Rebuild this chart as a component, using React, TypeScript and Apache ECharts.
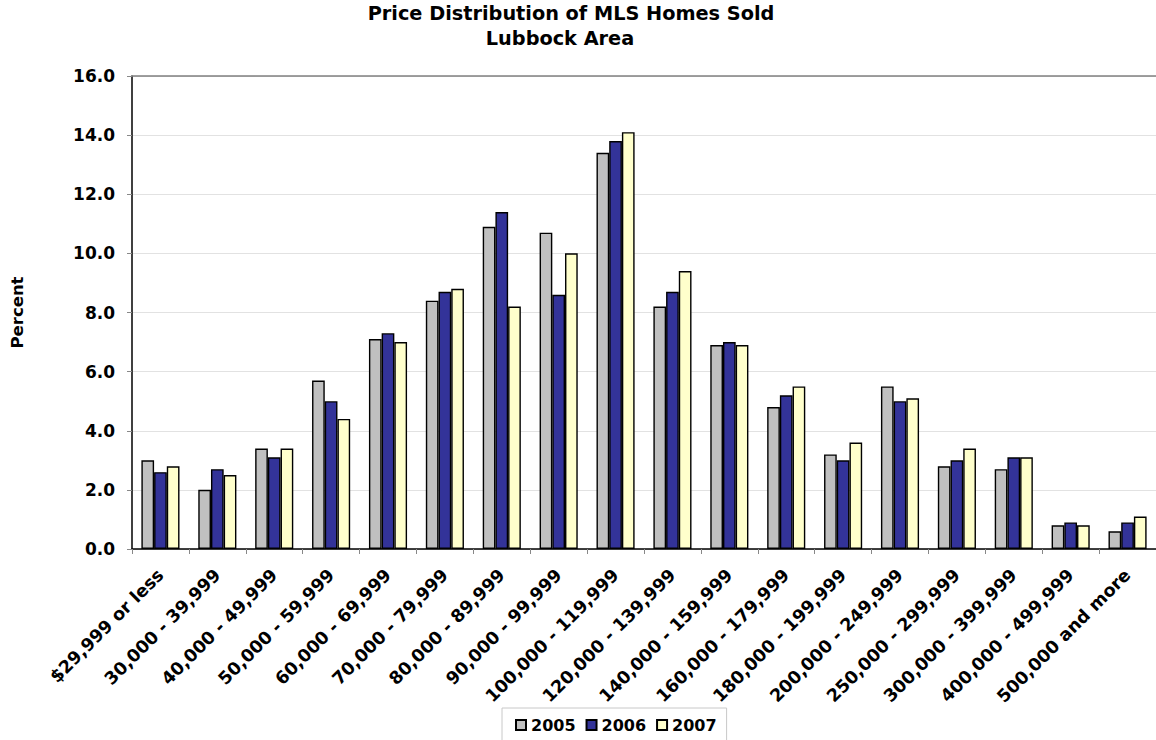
import React, { useEffect, useRef } from "react";
import * as echarts from "echarts";

const categories = [
  "$29,999 or less",
  "30,000 - 39,999",
  "40,000 - 49,999",
  "50,000 - 59,999",
  "60,000 - 69,999",
  "70,000 - 79,999",
  "80,000 - 89,999",
  "90,000 - 99,999",
  "100,000 - 119,999",
  "120,000 - 139,999",
  "140,000 - 159,999",
  "160,000 - 179,999",
  "180,000 - 199,999",
  "200,000 - 249,999",
  "250,000 - 299,999",
  "300,000 - 399,999",
  "400,000 - 499,999",
  "500,000 and more",
];

const values2005 = [3.0, 2.0, 3.4, 5.7, 7.1, 8.4, 10.9, 10.7, 13.4, 8.2, 6.9, 4.8, 3.2, 5.5, 2.8, 2.7, 0.8, 0.6];
const values2006 = [2.6, 2.7, 3.1, 5.0, 7.3, 8.7, 11.4, 8.6, 13.8, 8.7, 7.0, 5.2, 3.0, 5.0, 3.0, 3.1, 0.9, 0.9];
const values2007 = [2.8, 2.5, 3.4, 4.4, 7.0, 8.8, 8.2, 10.0, 14.1, 9.4, 6.9, 5.5, 3.6, 5.1, 3.4, 3.1, 0.8, 1.1];

const seriesNames = ["2005", "2006", "2007"];
const seriesColors = ["#C0C0C0", "#333399", "#FFFFCC"];

const FONT = "'DejaVu Sans', Verdana, sans-serif";

export default function App() {
  const ref = useRef<HTMLDivElement>(null);

  useEffect(() => {
    if (!ref.current) return;
    const chart = echarts.init(ref.current, undefined, { renderer: "svg" });
    const data = [values2005, values2006, values2007];

    chart.setOption({
      animation: false,
      backgroundColor: "#ffffff",
      title: [
        {
          text: "Price Distribution of MLS Homes Sold",
          left: 571,
          top: 4,
          textAlign: "center",
          textStyle: { fontFamily: FONT, fontWeight: "bold", fontSize: 19.3, color: "#000" },
          padding: 0,
        },
        {
          text: "Lubbock Area",
          left: 560,
          top: 29,
          textAlign: "center",
          textStyle: { fontFamily: FONT, fontWeight: "bold", fontSize: 19.3, color: "#000" },
          padding: 0,
        },
      ],
      legend: {
        data: seriesNames,
        left: 502,
        top: 708,
        orient: "horizontal",
        itemWidth: 10,
        itemHeight: 10,
        itemGap: 10,
        padding: [7, 10, 14, 13],
        borderColor: "#c8c8c8",
        borderWidth: 1,
        backgroundColor: "#ffffff",
        icon: "rect",
        textStyle: { fontFamily: FONT, fontWeight: "bold", fontSize: 16, color: "#000", lineHeight: 20 },
      },
      grid: { left: 132, top: 76, right: -3, bottom: 191, containLabel: false },
      xAxis: [
        {
          type: "category",
          data: categories,
          axisLine: { lineStyle: { color: "#000", width: 1.5 } },
          axisTick: { show: true, inside: false, length: 5, alignWithLabel: false, lineStyle: { color: "#888" } },
          axisLabel: {
            rotate: 45,
            interval: 0,
            margin: 23,
            fontFamily: FONT,
            fontWeight: "bold",
            fontSize: 17.6,
            color: "#000",
          },
        },
        {
          type: "category",
          data: categories,
          position: "top",
          axisLine: { lineStyle: { color: "#808080", width: 1.5 } },
          axisTick: { show: false },
          axisLabel: { show: false },
        },
      ],
      yAxis: {
        type: "value",
        min: 0,
        max: 16,
        interval: 2,
        name: "Percent",
        nameLocation: "middle",
        nameRotate: 90,
        nameGap: 106,
        nameTextStyle: { fontFamily: FONT, fontWeight: "bold", fontSize: 16.5, color: "#000" },
        axisLine: { show: true, lineStyle: { color: "#000", width: 1.5 } },
        axisTick: { show: true, length: 5, lineStyle: { color: "#888" } },
        axisLabel: {
          margin: 17,
          fontFamily: FONT,
          fontWeight: "bold",
          fontSize: 17,
          color: "#000",
          formatter: (v: number) => v.toFixed(1),
        },
        splitLine: { show: true, lineStyle: { color: "#e2e2e2", width: 1 } },
      },
      series: seriesNames.map((name, i) => ({
        name,
        type: "bar",
        data: data[i],
        barGap: "0%",
        barCategoryGap: "33%",
        itemStyle: { color: seriesColors[i], borderColor: "#000", borderWidth: 1.4 },
      })),
    });

    return () => chart.dispose();
  }, []);

  return (
    <div
      ref={ref}
      style={{ position: "fixed", left: 0, top: 0, width: 1156, height: 740 }}
    />
  );
}
